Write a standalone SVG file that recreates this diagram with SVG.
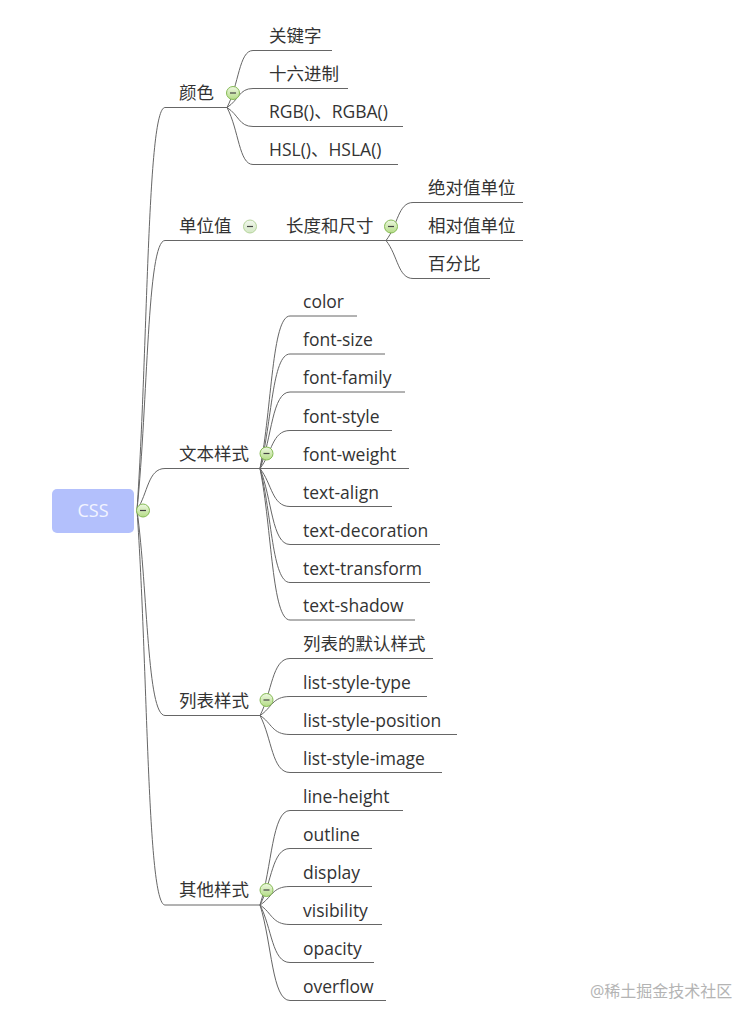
<svg xmlns="http://www.w3.org/2000/svg" width="756" height="1026" viewBox="0 0 756 1026">
<style>
text{font-family:"Open Sans","Noto Sans CJK SC",sans-serif;font-size:17.5px;fill:#333}
.u{stroke:#666;stroke-width:1;fill:none}
.c path,.c line{stroke:#666;stroke-width:1;fill:none}
.tg circle{fill:url(#g);stroke:#86bb55;stroke-width:1}
.tg line{stroke:#444;stroke-width:1.2}
.pale circle{fill:url(#gp);stroke:#b6d49c}
.wm{font-size:16px;fill:#b4b4b4}
</style>
<defs>
<linearGradient id="g" x1="0" y1="0" x2="0" y2="1"><stop offset="0" stop-color="#eef8e2"/><stop offset="1" stop-color="#b4dc86"/></linearGradient>
<linearGradient id="gp" x1="0" y1="0" x2="0" y2="1"><stop offset="0" stop-color="#f2f7ee"/><stop offset="1" stop-color="#d3e8c4"/></linearGradient>
</defs>
<rect width="756" height="1026" fill="#fff"/>
<g id="connectors" class="c">
<path d="M137,510 C148,349 147,107.5 165,107.5"/>
<path d="M137,510 C148,402 147,240.5 165,240.5"/>
<path d="M137,510 C148,493 148,468.5 165,468.5"/>
<path d="M137,510 C148,592 147,715.5 165,715.5"/>
<path d="M137,510 C148,668 147,905 165,905"/>
<path d="M227,107.5 C239,84.7 239,50.5 253,50.5"/>
<path d="M227,107.5 C239,99.9 239,88.5 253,88.5"/>
<path d="M227,107.5 C239,115.1 239,126.5 253,126.5"/>
<path d="M227,107.5 C239,130.3 239,164.5 253,164.5"/>
<line x1="265" y1="240.5" x2="275" y2="240.5"/>
<path d="M386,240.5 C398,225.3 398,202.5 413,202.5"/>
<line x1="386" y1="240.5" x2="413" y2="240.5"/>
<path d="M386,240.5 C398,255.7 398,278.5 413,278.5"/>
<path d="M260,468.5 C272,407.5 272,316 290,316"/>
<path d="M260,468.5 C272,422.7 272,354 290,354"/>
<path d="M260,468.5 C272,437.9 272,392 290,392"/>
<path d="M260,468.5 C272,453.3 272,430.5 290,430.5"/>
<line x1="260" y1="468.5" x2="290" y2="468.5"/>
<path d="M260,468.5 C272,483.7 272,506.5 290,506.5"/>
<path d="M260,468.5 C272,498.9 272,544.5 290,544.5"/>
<path d="M260,468.5 C272,514.1 272,582.5 290,582.5"/>
<path d="M260,468.5 C272,529.1 272,620 290,620"/>
<path d="M260,715.5 C272,692.7 272,658.5 290,658.5"/>
<path d="M260,715.5 C272,707.9 272,696.5 290,696.5"/>
<path d="M260,715.5 C272,723.1 272,734.5 290,734.5"/>
<path d="M260,715.5 C272,738.3 272,772.5 290,772.5"/>
<path d="M260,905 C272,867.2 272,810.5 290,810.5"/>
<path d="M260,905 C272,882.4 272,848.5 290,848.5"/>
<path d="M260,905 C272,897.6 272,886.5 290,886.5"/>
<path d="M260,905 C272,912.8 272,924.5 290,924.5"/>
<path d="M260,905 C272,928 272,962.5 290,962.5"/>
<path d="M260,905 C272,943.2 272,1000.5 290,1000.5"/>
</g>
<g id="node-css">
<rect x="52" y="489" width="82" height="44" rx="5" fill="#b3c0fc"/>
<text x="93" y="517" text-anchor="middle" style="font-size:18px;fill:#f2f4ff">CSS</text>
<g class="tg"><circle cx="143" cy="510.5" r="6.5"/><line x1="140" y1="510.5" x2="146" y2="510.5"/></g>
</g>
<g id="node-color">
<line class="u" x1="165" y1="107.5" x2="227" y2="107.5"/>
<text x="179" y="98.5">颜色</text>
<g class="tg"><circle cx="233" cy="93" r="6.5"/><line x1="230" y1="93" x2="236" y2="93"/></g>
</g>
<g id="node-keyword"><line class="u" x1="253" y1="50.5" x2="332" y2="50.5"/><text x="269" y="42">关键字</text></g>
<g id="node-hex"><line class="u" x1="253" y1="88.5" x2="348" y2="88.5"/><text x="269" y="80">十六进制</text></g>
<g id="node-rgb"><line class="u" x1="253" y1="126.5" x2="403" y2="126.5"/><text x="269" y="118">RGB()、RGBA()</text></g>
<g id="node-hsl"><line class="u" x1="253" y1="164.5" x2="398" y2="164.5"/><text x="269" y="156">HSL()、HSLA()</text></g>
<g id="node-unit">
<line class="u" x1="165" y1="240.5" x2="265" y2="240.5"/>
<text x="179" y="231.5">单位值</text>
<g class="tg pale"><circle cx="250" cy="226.5" r="6.5"/><line x1="247" y1="226.5" x2="253" y2="226.5"/></g>
</g>
<g id="node-length">
<line class="u" x1="275" y1="240.5" x2="386" y2="240.5"/>
<text x="286" y="231.5">长度和尺寸</text>
<g class="tg"><circle cx="391" cy="226.5" r="6.5"/><line x1="388" y1="226.5" x2="394" y2="226.5"/></g>
</g>
<g id="node-abs"><line class="u" x1="413" y1="202.5" x2="523" y2="202.5"/><text x="428" y="193.5">绝对值单位</text></g>
<g id="node-rel"><line class="u" x1="413" y1="240.5" x2="523" y2="240.5"/><text x="428" y="231.5">相对值单位</text></g>
<g id="node-pct"><line class="u" x1="413" y1="278.5" x2="490" y2="278.5"/><text x="428" y="269.5">百分比</text></g>
<g id="node-text">
<line class="u" x1="165" y1="468.5" x2="260" y2="468.5"/>
<text x="179" y="459.5">文本样式</text>
<g class="tg"><circle cx="266.5" cy="453.5" r="6.5"/><line x1="263.5" y1="453.5" x2="269.5" y2="453.5"/></g>
</g>
<g id="node-t-color"><line class="u" x1="290" y1="316" x2="357" y2="316"/><text x="303" y="308">color</text></g>
<g id="node-t-size"><line class="u" x1="290" y1="354" x2="385" y2="354"/><text x="303" y="346">font-size</text></g>
<g id="node-t-family"><line class="u" x1="290" y1="392" x2="405" y2="392"/><text x="303" y="384">font-family</text></g>
<g id="node-t-style"><line class="u" x1="290" y1="430.5" x2="392" y2="430.5"/><text x="303" y="422.5">font-style</text></g>
<g id="node-t-weight"><line class="u" x1="290" y1="468.5" x2="409" y2="468.5"/><text x="303" y="460.5">font-weight</text></g>
<g id="node-t-align"><line class="u" x1="290" y1="506.5" x2="392" y2="506.5"/><text x="303" y="498.5">text-align</text></g>
<g id="node-t-decoration"><line class="u" x1="290" y1="544.5" x2="440" y2="544.5"/><text x="303" y="536.5">text-decoration</text></g>
<g id="node-t-transform"><line class="u" x1="290" y1="582.5" x2="430" y2="582.5"/><text x="303" y="574.5">text-transform</text></g>
<g id="node-t-shadow"><line class="u" x1="290" y1="620" x2="415" y2="620"/><text x="303" y="612">text-shadow</text></g>
<g id="node-list">
<line class="u" x1="165" y1="715.5" x2="260" y2="715.5"/>
<text x="179" y="706.5">列表样式</text>
<g class="tg"><circle cx="266.5" cy="700" r="6.5"/><line x1="263.5" y1="700" x2="269.5" y2="700"/></g>
</g>
<g id="node-l-default"><line class="u" x1="290" y1="658.5" x2="433" y2="658.5"/><text x="303" y="649.5">列表的默认样式</text></g>
<g id="node-l-type"><line class="u" x1="290" y1="696.5" x2="427" y2="696.5"/><text x="303" y="688.5">list-style-type</text></g>
<g id="node-l-position"><line class="u" x1="290" y1="734.5" x2="457" y2="734.5"/><text x="303" y="726.5">list-style-position</text></g>
<g id="node-l-image"><line class="u" x1="290" y1="772.5" x2="442" y2="772.5"/><text x="303" y="764.5">list-style-image</text></g>
<g id="node-other">
<line class="u" x1="165" y1="905" x2="260" y2="905"/>
<text x="179" y="896">其他样式</text>
<g class="tg"><circle cx="266.5" cy="890" r="6.5"/><line x1="263.5" y1="890" x2="269.5" y2="890"/></g>
</g>
<g id="node-o-lineheight"><line class="u" x1="290" y1="810.5" x2="403" y2="810.5"/><text x="303" y="802.5">line-height</text></g>
<g id="node-o-outline"><line class="u" x1="290" y1="848.5" x2="372" y2="848.5"/><text x="303" y="840.5">outline</text></g>
<g id="node-o-display"><line class="u" x1="290" y1="886.5" x2="372" y2="886.5"/><text x="303" y="878.5">display</text></g>
<g id="node-o-visibility"><line class="u" x1="290" y1="924.5" x2="382" y2="924.5"/><text x="303" y="916.5">visibility</text></g>
<g id="node-o-opacity"><line class="u" x1="290" y1="962.5" x2="374" y2="962.5"/><text x="303" y="954.5">opacity</text></g>
<g id="node-o-overflow"><line class="u" x1="290" y1="1000.5" x2="386" y2="1000.5"/><text x="303" y="992.5">overflow</text></g>
<text class="wm" x="590" y="997">@稀土掘金技术社区</text>
</svg>
